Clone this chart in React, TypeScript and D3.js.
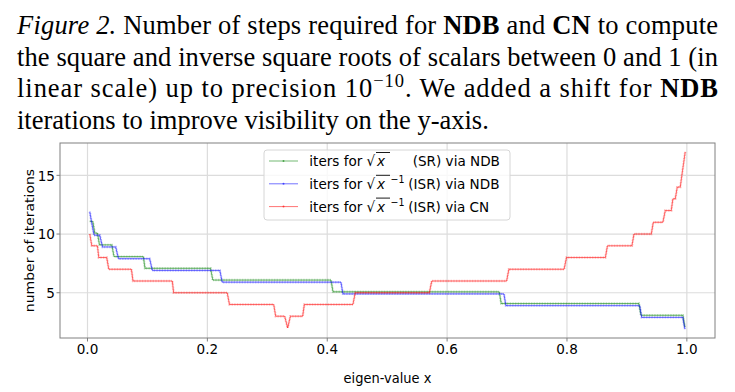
import React from 'react';
import * as d3 from 'd3';

// ---- data ----
const xTicks = [0, 0.2, 0.4, 0.6, 0.8, 1.0];
const yTicks = [5, 10, 15];

// iterations for sqrt(x) (SR) via NDB — vertices of the step curve
const srNdbX = [0.0038, 0.0088, 0.0122, 0.0166, 0.0200, 0.0405, 0.0443, 0.0932, 0.0959, 0.2053, 0.2091, 0.4063, 0.4096, 0.6870, 0.6903, 0.9201, 0.9234, 0.9933, 0.9967];
const srNdbIters = [11, 11, 10, 10, 9, 9, 8, 8, 7, 7, 6, 6, 5, 5, 4, 4, 3, 3, 2];

// iterations for sqrt(x)^-1 (ISR) via NDB
const isrNdbX = [0.0038, 0.0072, 0.0110, 0.0205, 0.0250, 0.0471, 0.0516, 0.1037, 0.1082, 0.2208, 0.2248, 0.4229, 0.4262, 0.6948, 0.6981, 0.9213, 0.9246, 0.9933, 0.9967];
const isrNdbIters = [12, 11, 10, 10, 9, 9, 8, 8, 7, 7, 6, 6, 5, 5, 4, 4, 3, 3, 2];

// iterations for sqrt(x)^-1 (ISR) via CN
const isrCnX = [0.0038, 0.0072, 0.0166, 0.0188, 0.0321, 0.0355, 0.0733, 0.0759, 0.1415, 0.1437, 0.2331, 0.2369, 0.3107, 0.3140, 0.3290, 0.3340, 0.3385, 0.3590, 0.3618, 0.4429, 0.4467, 0.5704, 0.5744, 0.6993, 0.7031, 0.7952, 0.7992, 0.8641, 0.8675, 0.9084, 0.9118, 0.9407, 0.9440, 0.9600, 0.9640, 0.9740, 0.9767, 0.9807, 0.9840, 0.9890, 0.9917, 0.9945, 0.9973];
const isrCnIters = [10, 9, 9, 8, 8, 7, 7, 6, 6, 5, 5, 4, 4, 3, 3, 2, 3, 3, 4, 4, 5, 5, 6, 6, 7, 7, 8, 8, 9, 9, 10, 10, 11, 11, 12, 12, 13, 13, 14, 14, 15, 16, 17];

// visibility shift added to the NDB curves
const srNdbShift = 0.08;
const isrNdbShift = -0.1;

const W = 735;
const H = 392;
const M = { left: 60, top: 143, right: 715, bottom: 338 };

const series = [
  { xs: srNdbX, ys: srNdbIters.map((v) => v + srNdbShift), color: '#008000' },
  { xs: isrNdbX, ys: isrNdbIters.map((v) => v + isrNdbShift), color: '#0000ff' },
  { xs: isrCnX, ys: isrCnIters, color: '#ff0000' },
];

const allX = series.flatMap((s) => s.xs);
const allY = series.flatMap((s) => s.ys);
const pad = (ext: [number, number]) => {
  const r = ext[1] - ext[0];
  return [ext[0] - 0.05 * r, ext[1] + 0.05 * r];
};

const x = d3.scaleLinear().domain(pad(d3.extent(allX) as [number, number])).range([M.left, M.right]);
const y = d3.scaleLinear().domain(pad(d3.extent(allY) as [number, number])).range([M.bottom, M.top]);

const line = d3
  .line<[number, number]>()
  .x((d) => x(d[0]))
  .y((d) => y(d[1]));

const SANS = 'DejaVu Sans, sans-serif';
const SERIF = 'Liberation Serif, Times New Roman, serif';
const SQ = 0.93; // horizontal squeeze of chart text
const FS = 14.6;

const legendRows = [
  { label: '(SR) via NDB', inv: false, color: '#008000', tx: 412.7 },
  { label: '(ISR) via NDB', inv: true, color: '#0000ff', tx: 408.3 },
  { label: '(ISR) via CN', inv: true, color: '#ff0000', tx: 408.3 },
];

function ST(props: { x: number; y: number; anchor?: string; size?: number; italic?: boolean; children: React.ReactNode }) {
  return (
    <text
      transform={`translate(${props.x},${props.y}) scale(${SQ},1)`}
      textAnchor={props.anchor || 'start'}
      fontFamily={SANS}
      fontSize={props.size || FS}
      fontStyle={props.italic ? 'italic' : 'normal'}
      fill="#000"
    >
      {props.children}
    </text>
  );
}

export default function App() {
  const gridColor = '#dcdcdc';
  const spine = '#808080';
  const capLen = 701;
  return (
    <svg width={W} height={H} style={{ position: 'absolute', left: 0, top: 0, background: '#fff' }}>
      {/* caption */}
      <g fontFamily={SERIF} fontSize={26.5} fill="#000">
        <text x={17} y={34} textLength={capLen} lengthAdjust="spacing">
          <tspan fontStyle="italic">Figure 2.</tspan>
          <tspan> Number of steps required for </tspan>
          <tspan fontWeight="bold">NDB</tspan>
          <tspan> and </tspan>
          <tspan fontWeight="bold">CN</tspan>
          <tspan> to compute</tspan>
        </text>
        <text x={17} y={65.5} textLength={capLen} lengthAdjust="spacing">
          the square and inverse square roots of scalars between 0 and 1 (in
        </text>
        <text x={17} y={97} textLength={capLen} lengthAdjust="spacing">
          <tspan>linear scale) up to precision 10</tspan>
          <tspan fontSize={18.5} dy={-10}>{'\u221210'}</tspan>
          <tspan dy={10}>{'.  We added a shift for '}</tspan>
          <tspan fontWeight="bold">NDB</tspan>
        </text>
        <text x={17} y={128.5}>iterations to improve visibility on the y-axis.</text>
      </g>

      {/* grid */}
      <g>
        {xTicks.map((t) => (
          <line key={'gx' + t} x1={x(t)} x2={x(t)} y1={M.top} y2={M.bottom} stroke={gridColor} strokeWidth={1.2} />
        ))}
        {yTicks.map((t) => (
          <line key={'gy' + t} x1={M.left} x2={M.right} y1={y(t)} y2={y(t)} stroke={gridColor} strokeWidth={1.2} />
        ))}
      </g>

      {/* series */}
      <g fill="none">
        {series.map((s, i) => {
          const pts = s.xs.map((v, j) => [v, s.ys[j]] as [number, number]);
          const d = line(pts) || '';
          return (
            <g key={i}>
              <path d={d} stroke={s.color} strokeOpacity={0.55} strokeWidth={1} />
              <path d={d} stroke={s.color} strokeOpacity={0.3} strokeWidth={2.4} strokeDasharray="0.8 0.8" />
            </g>
          );
        })}
      </g>

      {/* spines */}
      <rect x={M.left} y={M.top} width={M.right - M.left} height={M.bottom - M.top} fill="none" stroke={spine} strokeWidth={1} />

      {/* ticks */}
      <g>
        {xTicks.map((t) => (
          <g key={'tx' + t}>
            <line x1={x(t)} x2={x(t)} y1={M.bottom} y2={M.bottom + 3.5} stroke={spine} />
            <ST x={x(t)} y={353.5} anchor="middle">
              {t.toFixed(1)}
            </ST>
          </g>
        ))}
        {yTicks.map((t) => (
          <g key={'ty' + t}>
            <line x1={M.left - 3.5} x2={M.left} y1={y(t)} y2={y(t)} stroke={spine} />
            <ST x={55} y={y(t) + 5.3} anchor="end">
              {t}
            </ST>
          </g>
        ))}
        <ST x={(M.left + M.right) / 2} y={383} anchor="middle" size={14}>
          eigen-value x
        </ST>
        <text
          transform={`translate(33.5, ${(M.top + M.bottom) / 2}) scale(${SQ},1) rotate(-90)`}
          textAnchor="middle"
          fontFamily={SANS}
          fontSize={14}
          fill="#000"
        >
          number of iterations
        </text>
      </g>

      {/* legend */}
      <g>
        <rect x={264} y={150} width={246} height={70} rx={3} fill="#fff" fillOpacity={0.8} stroke="#d6d6d6" />
        {legendRows.map((r, i) => {
          const cy = 161 + i * 22.8;
          return (
            <g key={i}>
              <line x1={269} x2={298} y1={cy} y2={cy} stroke={r.color} strokeOpacity={0.55} strokeWidth={1} />
              <circle cx={283.5} cy={cy} r={1} fill={r.color} fillOpacity={0.6} />
              <ST x={309.3} y={cy + 5.3}>iters for</ST>
              <ST x={366.5} y={cy + 5.3}>{'\u221A'}</ST>
              <line x1={376} x2={390} y1={cy - 8.5} y2={cy - 8.5} stroke="#000" strokeWidth={0.9} />
              <ST x={377} y={cy + 5.3} italic>
                x
              </ST>
              {r.inv && (
                <ST x={390.5} y={cy - 1} size={10.2}>
                  {'\u22121'}
                </ST>
              )}
              <ST x={r.tx} y={cy + 5.3}>
                {r.label}
              </ST>
            </g>
          );
        })}
      </g>
    </svg>
  );
}
